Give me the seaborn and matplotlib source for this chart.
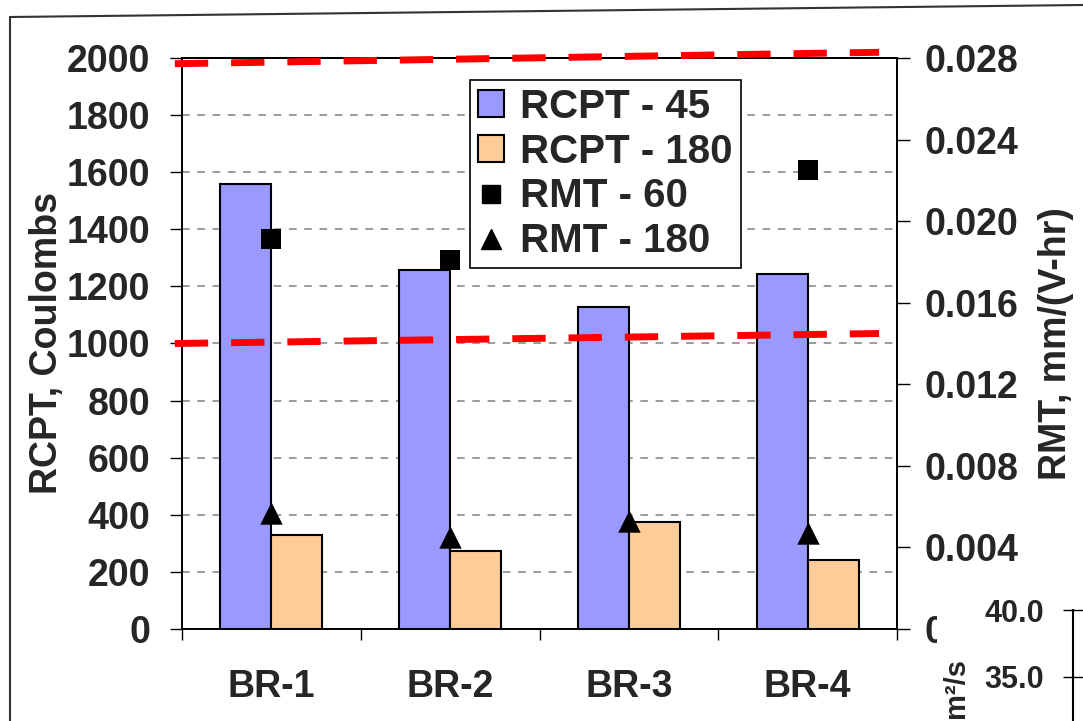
import numpy as np
import pandas as pd
import seaborn as sns
import matplotlib.pyplot as plt
from matplotlib.lines import Line2D
from matplotlib.patches import Patch, Rectangle

# values
categories = ["BR-1", "BR-2", "BR-3", "BR-4"]
rcpt_45 = [1560, 1258, 1128, 1245]
rcpt_180 = [330, 272, 375, 240]
rmt_60 = [0.0191, 0.0181, np.nan, 0.0225]
rmt_180 = [0.0057, 0.0045, 0.0053, 0.0047]
series = ["RCPT - 45", "RCPT - 180", "RMT - 60", "RMT - 180"]

left_ticks = [0, 200, 400, 600, 800, 1000, 1200, 1400, 1600, 1800, 2000]
right_ticks = [0, 0.004, 0.008, 0.012, 0.016, 0.020, 0.024, 0.028]
right_labels = ["0", "0.004", "0.008", "0.012", "0.016", "0.020", "0.024", "0.028"]

# hand drawn red dashed limits (RCPT units at the two ends)
limit_upper = [1980, 2020]
limit_lower = [1000, 1035]
limit_x = [-0.54, 3.40]

# fragment of the next slide chart in the corner
frag_ticks = [35.0, 40.0]
frag_labels = ["35.0", "40.0"]

df = pd.DataFrame({
    "Sample": categories * 2,
    "RCPT": rcpt_45 + rcpt_180,
    "Serie": [series[0]] * 4 + [series[1]] * 4,
})

sns.set_style("white")
plt.rcParams["font.family"] = ["Liberation Sans", "DejaVu Sans"]
plt.rcParams["font.weight"] = "bold"

W, H = 1083, 721
fig = plt.figure(figsize=(W / 100, H / 100), dpi=100)
ax = fig.add_axes([182 / W, 1 - 629 / H, (897 - 182) / W, (629 - 58) / H])

colors = ["#9999FF", "#FFCC99"]
sns.barplot(data=df, x="Sample", y="RCPT", hue="Serie", palette=colors,
            width=0.57, saturation=1, edgecolor="black", linewidth=1.5,
            legend=False, ax=ax)

ax.set_xlim(-0.5, 3.5)
ax.set_ylim(0, 2000)
ax.set_yticks(left_ticks)
ax.set_yticklabels([str(t) for t in left_ticks], fontsize=27, fontweight="bold")
ax.yaxis.grid(True, color="#808080", linestyle=(0, (5, 5)), linewidth=1.1)
ax.set_axisbelow(True)
ax.tick_params(axis="y", direction="out", length=9, width=1, color="black", pad=14, left=True)

ax.set_xticks(range(len(categories)))
ax.set_xticklabels(categories, fontsize=27, fontweight="bold")
ax.set_xticks([-0.5, 0.5, 1.5, 2.5, 3.5], minor=True)
ax.tick_params(axis="x", which="major", length=0, pad=29)
ax.tick_params(axis="x", which="minor", direction="out", length=8, width=1,
               color="black", bottom=True)
ax.set_xlabel("")
ax.set_ylabel("RCPT, Coulombs", fontsize=27, fontweight="bold", labelpad=1)
for s in ax.spines.values():
    s.set_visible(True)
    s.set_color("black")
    s.set_linewidth(1.3)

ax2 = ax.twinx()
pos = np.arange(len(categories))
sns.scatterplot(x=pos, y=rmt_60, marker="s", color="black", s=190,
                linewidth=0, ax=ax2, zorder=6)
sns.scatterplot(x=pos, y=rmt_180, marker="^", color="black", s=260,
                linewidth=0, ax=ax2, zorder=6)

# red dashed lines drawn in RCPT units
for vals in (limit_upper, limit_lower):
    ax2.plot(limit_x, vals, transform=ax.transData, color="#FF0000",
             linewidth=5, linestyle=(0, (4.8, 3.3)), solid_capstyle="butt",
             dash_capstyle="butt", clip_on=False, zorder=5)

ax2.set_xlim(-0.5, 3.5)
ax2.set_ylim(0, 0.028)
ax2.set_yticks(right_ticks)
ax2.set_yticklabels(right_labels, fontsize=27, fontweight="bold")
ax2.tick_params(axis="y", direction="out", length=9, width=1, color="black", pad=11, right=True)
ax2.set_ylabel("RMT, mm/(V-hr)", fontsize=27, fontweight="bold", labelpad=14)
for s in ax2.spines.values():
    s.set_color("black")
    s.set_linewidth(1.3)

handles = [
    Patch(facecolor=colors[0], edgecolor="black", linewidth=1.5),
    Patch(facecolor=colors[1], edgecolor="black", linewidth=1.5),
    Line2D([], [], marker="s", color="black", linestyle="none", markersize=13),
    Line2D([], [], marker="^", color="black", linestyle="none", markersize=15),
]
leg = ax2.legend(handles, series, loc="upper left", bbox_to_anchor=(0.403, 0.962),
                 prop={"size": 29, "weight": "bold"}, frameon=True, fancybox=False,
                 edgecolor="black", framealpha=1, borderpad=0.2, labelspacing=0.17,
                 handlelength=0.65, handleheight=0.65, handletextpad=0.4,
                 borderaxespad=0, numpoints=1)
leg.get_frame().set_linewidth(1.2)
leg.set_zorder(10)

# slide frame
fig.add_artist(Line2D([10 / W, 10 / W], [0, 1 - 17 / H], transform=fig.transFigure,
                      color="#333333", linewidth=1.5))
fig.add_artist(Line2D([10 / W, 1], [1 - 17 / H, 1 - 5 / H], transform=fig.transFigure,
                      color="#333333", linewidth=1.5))

# overlapping corner of the next chart
fig.add_artist(Rectangle((937 / W, 0), (W - 937) / W, (721 - 598) / H,
                         transform=fig.transFigure, facecolor="white",
                         edgecolor="none", zorder=20))
ax3 = fig.add_axes([1073 / W, 0, 20 / W, (721 - 610) / H], zorder=21)
ax3.set_ylim(40 - 111 / 13.4, 40)
ax3.set_xlim(0, 1)
ax3.set_yticks(frag_ticks)
ax3.set_yticklabels(frag_labels, fontsize=22, fontweight="bold")
ax3.set_xticks([])
ax3.tick_params(axis="y", direction="inout", length=14, width=1, color="black", pad=14, left=True)
for k, s in ax3.spines.items():
    s.set_visible(k == "left")
ax3.spines["left"].set_color("black")
ax3.spines["left"].set_linewidth(1.5)
ax3.patch.set_alpha(0)
fig.text(956 / W, 1 - 688 / H, "m²/s", rotation=90, ha="center", va="center",
         fontsize=21, fontweight="bold", zorder=22)

fig.savefig("out.png", dpi=100)
